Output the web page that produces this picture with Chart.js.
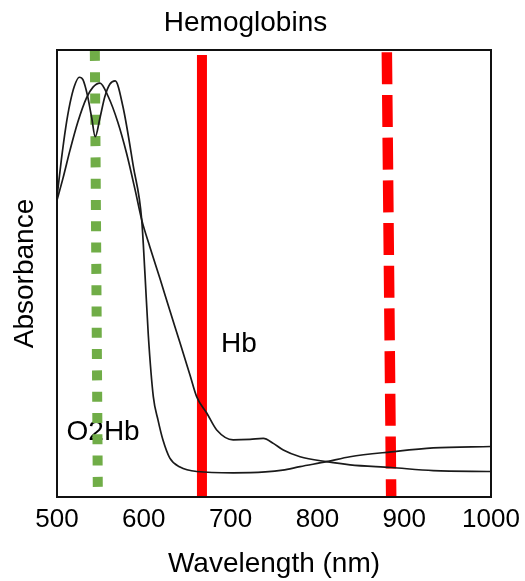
<!DOCTYPE html>
<html>
<head>
<meta charset="utf-8">
<title>Hemoglobins</title>
<script src="https://cdn.jsdelivr.net/npm/chart.js@4/dist/chart.umd.min.js"></script>
<style>
  html, body { margin: 0; padding: 0; background: #fff; }
  #wrap { width: 525px; height: 581px; }
</style>
</head>
<body>
<div id="wrap"><canvas id="spectra"></canvas></div>
<script>
// absorbance spectra, arbitrary units (0 = bottom of frame, 1 = top)
const o2hbNm  = [500, 505, 510, 515, 520, 525.7, 530, 535, 540, 544, 549.5, 555, 561, 567, 576, 588,
                 597.6, 601.4, 605.2, 611, 616.4, 622, 630, 641.7, 661, 703, 740, 760, 780, 810.7, 837.6, 885, 933.5, 1000];
const o2hbAbs = [0.671, 0.754, 0.826, 0.881, 0.919, 0.939, 0.933, 0.899, 0.848, 0.806, 0.848, 0.895, 0.924, 0.931, 0.873, 0.739,
                 0.620, 0.497, 0.362, 0.224, 0.172, 0.128, 0.087, 0.067, 0.057, 0.054, 0.056, 0.060, 0.068, 0.079, 0.090, 0.101, 0.110, 0.113];

const hbNm  = [500, 507, 515, 524, 534, 541.5, 549.5, 559, 570, 580, 590, 597.6, 607.1, 618.7, 630.2, 641.7, 653.2, 661,
               672.5, 684, 703, 722.4, 737.7, 749.2, 760.7, 780, 810.7, 837.6, 884.8, 933.5, 1000];
const hbAbs = [0.664, 0.714, 0.776, 0.839, 0.893, 0.917, 0.926, 0.896, 0.839, 0.770, 0.687, 0.620, 0.559, 0.488, 0.416, 0.345, 0.273, 0.224,
               0.188, 0.150, 0.128, 0.129, 0.131, 0.120, 0.105, 0.090, 0.079, 0.072, 0.066, 0.059, 0.057];

// marker wavelengths (top point first so the dash pattern starts at the top)
const greenNm = [543.6, 547];
const greenAbs = [0.998, 0.02];
const redSolidNm = [667, 667];
const redSolidAbs = [0.989, 0];
const redDashNm = [880, 885];
const redDashAbs = [0.995, 0];

const xTickValues = [500, 600, 700, 800, 900, 1000];

const curveLabels = [
  { text: 'Hb',   nm: 689, abs: 0.342 },
  { text: 'O2Hb', nm: 511, abs: 0.145 }
];

const FONT = 'Liberation Sans, Arial, Helvetica, sans-serif';

function pts(xs, ys) {
  return xs.map((x, i) => ({ x: x, y: ys[i] }));
}

const curveStyle = {
  borderColor: '#1a1a1a',
  borderWidth: 1.7,
  pointRadius: 0,
  fill: false,
  cubicInterpolationMode: 'monotone'
};

// frame around the plot area
const frameBox = {
  id: 'frameBox',
  afterDatasetsDraw(chart) {
    const { ctx, chartArea: a } = chart;
    ctx.save();
    ctx.strokeStyle = '#111';
    ctx.lineWidth = 2;
    ctx.strokeRect(a.left, a.top, a.right - a.left, a.bottom - a.top);
    ctx.restore();
  }
};

// curve names, drawn under the marker lines
const curveNames = {
  id: 'curveNames',
  beforeDatasetsDraw(chart) {
    const { ctx, scales } = chart;
    ctx.save();
    ctx.font = '28px ' + FONT;
    ctx.fillStyle = '#000';
    ctx.textAlign = 'left';
    ctx.textBaseline = 'middle';
    curveLabels.forEach(l => {
      ctx.fillText(l.text, scales.x.getPixelForValue(l.nm), scales.y.getPixelForValue(l.abs));
    });
    ctx.restore();
  }
};

const ctx = document.getElementById('spectra').getContext('2d');
const chart = new Chart(ctx, {
  type: 'line',
  data: {
    datasets: [
      { label: 'O2Hb', data: pts(o2hbNm, o2hbAbs), ...curveStyle },
      { label: 'Hb', data: pts(hbNm, hbAbs), ...curveStyle },
      {
        label: '545 nm',
        data: pts(greenNm, greenAbs),
        borderColor: '#70ad47',
        borderWidth: 10,
        borderDash: [10, 11.3],
        borderCapStyle: 'butt',
        pointRadius: 0,
        tension: 0
      },
      {
        label: '667 nm',
        data: pts(redSolidNm, redSolidAbs),
        borderColor: '#ff0000',
        borderWidth: 10,
        borderCapStyle: 'butt',
        pointRadius: 0,
        tension: 0
      },
      {
        label: '880 nm',
        data: pts(redDashNm, redDashAbs),
        borderColor: '#ff0000',
        borderWidth: 10.5,
        borderDash: [32, 10.7],
        borderCapStyle: 'butt',
        pointRadius: 0,
        tension: 0
      }
    ]
  },
  options: {
    responsive: true,
    maintainAspectRatio: false,
    animation: false,
    layout: { padding: { left: 0, right: 34, top: 0, bottom: 0 } },
    plugins: {
      legend: { display: false },
      tooltip: { enabled: false },
      title: {
        display: true,
        text: 'Hemoglobins',
        color: '#000',
        font: { family: FONT, size: 28, weight: 'normal' },
        padding: { top: 6.5, bottom: 9.9 }
      }
    },
    scales: {
      x: {
        type: 'linear',
        min: 500,
        max: 1000,
        grid: { display: false, drawTicks: false },
        border: { display: false },
        afterBuildTicks: scale => { scale.ticks = xTickValues.map(v => ({ value: v })); },
        ticks: {
          color: '#000',
          padding: 7,
          maxRotation: 0,
          font: { family: FONT, size: 26 },
          callback: v => String(v)
        },
        title: {
          display: true,
          text: 'Wavelength (nm)',
          color: '#000',
          font: { family: FONT, size: 28 },
          padding: { top: 0, bottom: 0 }
        },
        afterFit: scale => {
          scale.height = 84;
          // the "1000" label may hang past the frame
          scale.paddingLeft = 0;
          scale.paddingRight = 0;
        }
      },
      y: {
        min: 0,
        max: 1,
        grid: { display: false, drawTicks: false },
        border: { display: false },
        ticks: { display: false },
        title: {
          display: true,
          text: 'Absorbance',
          color: '#000',
          font: { family: FONT, size: 28 },
          padding: { top: 8, bottom: 0 }
        },
        afterFit: scale => { scale.width = 57; }
      }
    }
  },
  plugins: [curveNames, frameBox]
});
</script>
</body>
</html>
